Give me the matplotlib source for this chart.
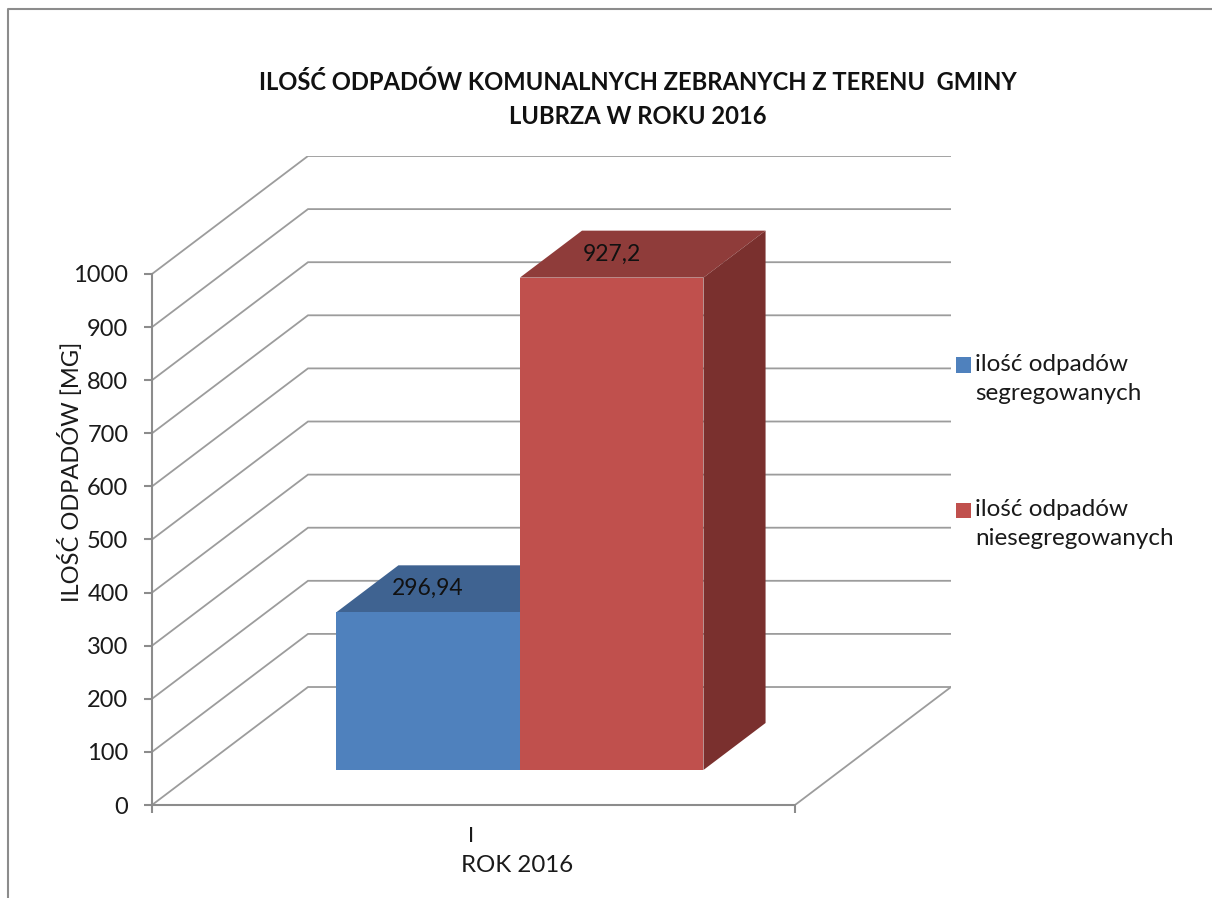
import matplotlib
matplotlib.use('Agg')
import matplotlib.pyplot as plt
from matplotlib.lines import Line2D
from matplotlib.patches import Rectangle

series_names = ['ilość odpadów\nsegregowanych', 'ilość odpadów\nniesegregowanych']
values = [296.94, 927.2]
value_labels = ['296,94', '927,2']
colors = ['#4f81bd', '#c0504d']
top_colors = ['#3f6391', '#8f3c3a']
side_colors = ['#365a85', '#7a302e']
yticks = list(range(0, 1100, 100))

plt.rcParams['font.family'] = ['Lato', 'DejaVu Sans']

W, H = 1212, 898
fig = plt.figure(figsize=(W / 100, H / 100), dpi=100)
ax = fig.add_axes([152 / W, 1 - 805 / H, 799 / W, 649 / H])
ax.patch.set_alpha(0)

# oblique depth, how far the back wall is shifted from the front plane
DX = 156 / 643
DY = 222.2
ax.set_xlim(0, 1 + DX)
ax.set_ylim(0, 1000 + DY)

grid = '#9c9c9c'
for v in yticks:
    ax.plot([0, DX, 1 + DX], [v, v + DY, v + DY], color=grid, lw=1.3, zorder=1, solid_joinstyle='miter')
ax.plot([1, 1 + DX], [0, DY], color=grid, lw=1.3, zorder=1)


def project(x, y, d):
    return x + d * DX, y + d * DY


# bars stand between these depth fractions of the floor
d0, d1 = 0.297, 0.695
x0 = 0.2146
w = 0.2855
for i in range(2):
    left = x0 + i * w
    right = left + w
    v = values[i]
    corners = [project(left, v, d0), project(right, v, d0), project(right, v, d1), project(left, v, d1)]
    ax.fill(*zip(*corners), color=top_colors[i], lw=0, zorder=2 + i)
    corners = [project(right, 0, d0), project(right, v, d0), project(right, v, d1), project(right, 0, d1)]
    ax.fill(*zip(*corners), color=side_colors[i], lw=0, zorder=2 + i)
    corners = [project(left, 0, d0), project(right, 0, d0), project(right, v, d0), project(left, v, d0)]
    ax.fill(*zip(*corners), color=colors[i], lw=0, zorder=2 + i)
    # label sits over the middle of the front face, on the top face
    lx = project(left + w / 2, v, d0)[0]
    ly = project(left + w / 2, v, (d0 + d1) / 2)[1]
    ax.text(lx, ly, value_labels[i], ha='center', va='center', fontsize=16.5, color='#111111', zorder=5)

for s in ['top', 'right']:
    ax.spines[s].set_visible(False)
ax.spines['left'].set_bounds(0, 1000)
ax.spines['bottom'].set_bounds(0, 1)
for s in ['left', 'bottom']:
    ax.spines[s].set_color('#8c8c8c')
    ax.spines[s].set_linewidth(1.5)

ax.set_yticks(yticks)
ax.set_yticklabels([str(v) for v in yticks], fontsize=17, color='#1a1a1a')
ax.set_xticks([0, 1])
ax.set_xticklabels(['', ''])
ax.tick_params(axis='both', color='#8c8c8c', width=1.5, length=6)
ax.tick_params(axis='y', pad=11)

fig.text(471 / W, 1 - 836 / H, 'I', ha='center', va='center', fontsize=16, color='#1a1a1a')
fig.text(517 / W, 1 - 866 / H, 'ROK 2016', ha='center', va='center', fontsize=17.3, color='#1a1a1a')
fig.text(71 / W, 1 - 472 / H, 'ILOŚĆ ODPADÓW [MG]', rotation=90, ha='center', va='center', fontsize=17, color='#1a1a1a')
fig.text(638 / W, 1 - 82 / H, 'ILOŚĆ ODPADÓW KOMUNALNYCH ZEBRANYCH Z TERENU  GMINY',
         ha='center', va='center', fontsize=17.1, fontweight='bold', color='#111111')
fig.text(638 / W, 1 - 116 / H, 'LUBRZA W ROKU 2016',
         ha='center', va='center', fontsize=17.1, fontweight='bold', color='#111111')

# legend, square next to the first line of each label
legend_y = [365, 510]
for i in range(2):
    fig.add_artist(Rectangle((956 / W, 1 - (legend_y[i] + 7.5) / H), 15 / W, 15 / H, transform=fig.transFigure,
                             facecolor=colors[i], edgecolor='none'))
    fig.text(975 / W, 1 - (legend_y[i] - 11) / H, series_names[i], ha='left', va='top', fontsize=17.5,
             color='#1a1a1a', linespacing=1.45)

# outer chart frame
fig.add_artist(Line2D([8 / W, 8 / W, 1], [0, 1 - 9 / H, 1 - 9 / H], transform=fig.transFigure, color='#8c8c8c', lw=1.5))

fig.savefig('out.png', dpi=100)
